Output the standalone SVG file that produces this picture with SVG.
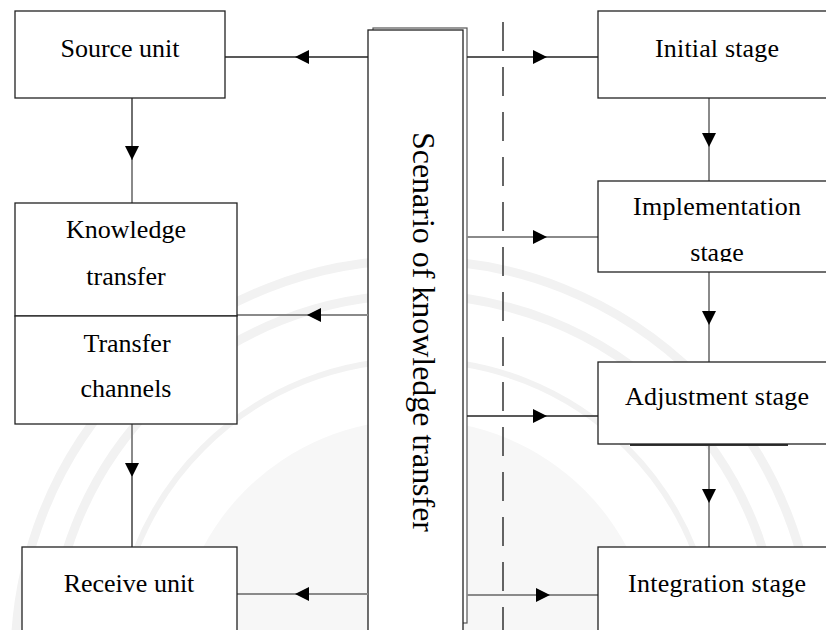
<svg xmlns="http://www.w3.org/2000/svg" width="826" height="630" viewBox="0 0 826 630">
  <style>
    .box { fill: #fff; stroke: #222; stroke-width: 1.3; }
    .lbl { font-size: 26px; fill: #000; text-anchor: middle; }
    .dark { stroke: #222; stroke-width: 1.3; fill: none; }
    .grey { stroke: #8a8a8a; stroke-width: 2; fill: none; }
    .seal { fill: none; stroke: #f2f2f2; }
  </style>
  <defs>
    <marker id="head" viewBox="0 0 10 10" refX="10" refY="5" markerWidth="14" markerHeight="14" markerUnits="userSpaceOnUse" orient="auto">
      <path d="M0,0 L10,5 L0,10 Z" fill="#000"/>
    </marker>
    <clipPath id="implClip"><rect x="598" y="181" width="228" height="81"/></clipPath>
  </defs>

  <rect width="826" height="630" fill="#fff"/>

  <!-- faint seal in the background -->
  <g id="seal">
    <circle class="seal" cx="415" cy="660" r="400" stroke-width="9"/>
    <circle class="seal" cx="415" cy="660" r="365" stroke-width="9"/>
    <circle class="seal" cx="415" cy="660" r="300" stroke-width="6"/>
    <circle cx="415" cy="660" r="240" fill="#f7f7f7"/>
  </g>

  <g font-family="Liberation Serif, Tinos, Times New Roman, Noto Serif, DejaVu Serif, serif">
  <!-- central band -->
  <g id="scenario">
    <rect x="373" y="28" width="94" height="595" fill="#fff" stroke="#555" stroke-width="1.2"/>
    <rect class="box" x="368" y="30" width="95" height="610"/>
    <text class="lbl" transform="translate(424,332) rotate(90)" style="font-size:32px" textLength="400" lengthAdjust="spacingAndGlyphs" dominant-baseline="central">Scenario of knowledge transfer</text>
  </g>

  <!-- separator -->
  <line x1="503" y1="22" x2="503" y2="630" stroke="#333" stroke-width="1.5" stroke-dasharray="29 16"/>

  <g id="connectors">
    <!-- band to left units -->
    <line class="dark" x1="368" y1="57" x2="295" y2="57" marker-end="url(#head)"/>
    <line class="dark" x1="295" y1="57" x2="225" y2="57"/>
    <line class="grey" x1="368" y1="315" x2="307" y2="315" marker-end="url(#head)"/>
    <line class="grey" x1="307" y1="315" x2="237" y2="315"/>
    <line class="grey" x1="368" y1="594" x2="295" y2="594" marker-end="url(#head)"/>
    <line class="grey" x1="295" y1="594" x2="237" y2="594"/>
    <!-- left column flow -->
    <line class="dark" x1="132" y1="98" x2="132" y2="160" marker-end="url(#head)"/>
    <line class="grey" x1="132" y1="160" x2="132" y2="203"/>
    <line class="grey" x1="132" y1="424" x2="132" y2="477" marker-end="url(#head)"/>
    <line class="dark" x1="132" y1="477" x2="132" y2="547"/>
    <!-- band to stages -->
    <line class="dark" x1="467" y1="57" x2="547" y2="57" marker-end="url(#head)"/>
    <line class="dark" x1="547" y1="57" x2="598" y2="57"/>
    <line class="grey" x1="467" y1="237" x2="547" y2="237" marker-end="url(#head)"/>
    <line class="grey" x1="547" y1="237" x2="598" y2="237"/>
    <line class="dark" x1="467" y1="416" x2="547" y2="416" marker-end="url(#head)"/>
    <line class="dark" x1="547" y1="416" x2="598" y2="416"/>
    <line class="grey" x1="467" y1="595" x2="550" y2="595" marker-end="url(#head)"/>
    <line class="grey" x1="550" y1="595" x2="598" y2="595"/>
    <!-- stage flow -->
    <line class="grey" x1="709" y1="98" x2="709" y2="147" marker-end="url(#head)"/>
    <line class="grey" x1="709" y1="147" x2="709" y2="181"/>
    <line class="grey" x1="709" y1="272" x2="709" y2="325" marker-end="url(#head)"/>
    <line class="grey" x1="709" y1="325" x2="709" y2="362"/>
    <line class="grey" x1="709" y1="445" x2="709" y2="503" marker-end="url(#head)"/>
    <line class="grey" x1="709" y1="503" x2="709" y2="547"/>
  </g>

  <!-- left units -->
  <g id="source-unit">
    <rect class="box" x="15" y="11" width="210" height="87"/>
    <text class="lbl" x="120" y="57">Source unit</text>
  </g>
  <g id="knowledge-transfer">
    <rect class="box" x="15" y="203" width="222" height="113"/>
    <text class="lbl" x="126" y="238">Knowledge</text>
    <text class="lbl" x="126" y="285">transfer</text>
  </g>
  <g id="transfer-channels">
    <rect class="box" x="15" y="316" width="222" height="108"/>
    <text class="lbl" x="127" y="352">Transfer</text>
    <text class="lbl" x="126" y="397">channels</text>
  </g>
  <g id="receive-unit">
    <rect class="box" x="22" y="547" width="215" height="100"/>
    <text class="lbl" x="129" y="592">Receive unit</text>
  </g>

  <!-- stages -->
  <g id="initial-stage">
    <rect class="box" x="598" y="11" width="240" height="87"/>
    <text class="lbl" x="717" y="57" textLength="124">Initial stage</text>
  </g>
  <g id="implementation-stage">
    <rect class="box" x="598" y="181" width="240" height="91"/>
    <text class="lbl" x="717" y="215" textLength="168">Implementation</text>
    <text class="lbl" x="717" y="261" clip-path="url(#implClip)">stage</text>
  </g>
  <g id="adjustment-stage">
    <line x1="630" y1="445" x2="788" y2="445" stroke="#333" stroke-width="2"/>
    <rect class="box" x="598" y="362" width="240" height="82"/>
    <text class="lbl" x="717" y="405" textLength="184">Adjustment stage</text>
  </g>
  <g id="integration-stage">
    <rect class="box" x="598" y="547" width="240" height="100"/>
    <text class="lbl" x="717" y="592" textLength="178">Integration stage</text>
  </g>
  </g>
</svg>
